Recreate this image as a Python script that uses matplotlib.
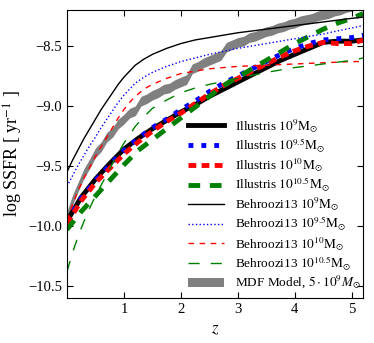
import numpy as np
import matplotlib
matplotlib.use("Agg")
import matplotlib.pyplot as plt
from matplotlib.patches import Patch

plt.rcParams['font.family'] = ['Liberation Serif', 'DejaVu Serif']
plt.rcParams['mathtext.fontset'] = 'stix'

# Illustris (thick lines)
z_ill = [0.0, 0.25, 0.5, 0.75, 1.0, 1.25, 1.5, 1.75, 2.0, 2.25, 2.5, 2.75,
         3.0, 3.25, 3.5, 3.75, 4.0, 4.25, 4.5, 4.75, 5.0, 5.2]
ill_9 = [-9.96, -9.76, -9.61, -9.48, -9.36, -9.27, -9.19, -9.12, -9.05, -8.99, -8.92, -8.86,
         -8.80, -8.74, -8.68, -8.62, -8.57, -8.52, -8.47, -8.46, -8.46, -8.45]
ill_95 = [-9.97, -9.77, -9.62, -9.49, -9.37, -9.27, -9.18, -9.11, -9.03, -8.96, -8.88, -8.81,
          -8.75, -8.69, -8.63, -8.57, -8.52, -8.48, -8.45, -8.44, -8.43, -8.41]
ill_10 = [-9.98, -9.79, -9.64, -9.52, -9.40, -9.30, -9.21, -9.13, -9.06, -8.98, -8.90, -8.83,
          -8.77, -8.71, -8.65, -8.59, -8.54, -8.50, -8.47, -8.48, -8.48, -8.45]
ill_105 = [-10.03, -9.88, -9.75, -9.62, -9.49, -9.37, -9.28, -9.19, -9.10, -9.01, -8.92, -8.83,
           -8.76, -8.69, -8.62, -8.55, -8.48, -8.42, -8.36, -8.31, -8.27, -8.23]

# Behroozi13 (thin lines)
z_beh = [0.0, 0.1, 0.2, 0.3, 0.4, 0.5, 0.6, 0.7, 0.8, 0.9, 1.0, 1.1, 1.2, 1.35, 1.5,
         1.75, 2.0, 2.25, 2.5, 3.0, 3.5, 4.0, 4.5, 5.0, 5.2]
beh_9 = [-9.55, -9.45, -9.36, -9.27, -9.19, -9.11, -9.03, -8.96, -8.89, -8.82, -8.76, -8.71,
         -8.66, -8.61, -8.57, -8.52, -8.48, -8.45, -8.43, -8.39, -8.36, -8.33, -8.30, -8.27, -8.26]
beh_95 = [-9.67, -9.58, -9.49, -9.41, -9.33, -9.26, -9.18, -9.11, -9.04, -8.97, -8.91, -8.86,
          -8.81, -8.76, -8.72, -8.67, -8.63, -8.60, -8.57, -8.52, -8.48, -8.44, -8.40, -8.35, -8.33]
beh_10 = [-9.95, -9.82, -9.70, -9.60, -9.51, -9.42, -9.34, -9.26, -9.18, -9.10, -9.03, -8.97,
          -8.92, -8.86, -8.82, -8.77, -8.73, -8.71, -8.69, -8.67, -8.66, -8.65, -8.64, -8.63, -8.63]
beh_105 = [-10.38, -10.22, -10.08, -9.96, -9.85, -9.75, -9.66, -9.57, -9.48, -9.39, -9.31, -9.24,
           -9.17, -9.09, -9.02, -8.95, -8.89, -8.85, -8.82, -8.77, -8.72, -8.68, -8.65, -8.62, -8.60]

# MDF model (grey band)
z_mdf = [0.0, 0.1, 0.2, 0.3, 0.4, 0.5, 0.6, 0.7, 0.8, 0.9, 1.0, 1.1, 1.2, 1.3, 1.4,
         1.5, 1.6, 1.7, 1.8, 1.9, 2.0, 2.1, 2.2, 2.3, 2.4, 2.5, 2.6, 2.7, 2.8, 2.9,
         3.0, 3.1, 3.2, 3.3, 3.4, 3.5, 3.6, 3.7, 3.8, 3.9, 4.0, 4.1, 4.2, 4.3, 4.4,
         4.5, 4.6, 4.7, 4.8, 4.9, 5.0, 5.1, 5.2]
mdf = [-9.92, -9.78, -9.67, -9.56, -9.48, -9.39, -9.34, -9.26, -9.22, -9.15, -9.11, -9.06, -9.04,
       -8.96, -8.94, -8.91, -8.89, -8.86, -8.85, -8.82, -8.80, -8.78, -8.69, -8.67, -8.64, -8.62,
       -8.60, -8.58, -8.51, -8.49, -8.47, -8.46, -8.43, -8.42, -8.40, -8.38, -8.37, -8.35, -8.34,
       -8.32, -8.31, -8.29, -8.28, -8.27, -8.25, -8.24, -8.23, -8.21, -8.20, -8.18, -8.17, -8.16, -8.14]
mdf_halfwidth = 0.04

fig = plt.figure(figsize=(3.74, 3.43), dpi=100)
ax = fig.add_axes([0.179, 0.131, 0.792, 0.840])

mdf = np.array(mdf)
ax.fill_between(z_mdf, mdf - mdf_halfwidth, mdf + mdf_halfwidth, color='grey', lw=0, zorder=1)

lw_thick = 3.5
h1, = ax.plot(z_ill, ill_9, color='black', lw=lw_thick, label=r'Illustris $10^{9}\mathrm{M}_{\odot}$')
h2, = ax.plot(z_ill, ill_95, color='blue', lw=lw_thick, ls=':', label=r'Illustris $10^{9.5}\mathrm{M}_{\odot}$')
h3, = ax.plot(z_ill, ill_10, color='red', lw=lw_thick, dashes=(1.6, 1.1), label=r'Illustris $10^{10}\mathrm{M}_{\odot}$')
h4, = ax.plot(z_ill, ill_105, color='green', lw=lw_thick, dashes=(2.4, 2.0), label=r'Illustris $10^{10.5}\mathrm{M}_{\odot}$')

h5, = ax.plot(z_beh, beh_9, color='black', lw=1, label=r'Behroozi13 $10^{9}\mathrm{M}_{\odot}$')
h6, = ax.plot(z_beh, beh_95, color='blue', lw=1, ls=':', label=r'Behroozi13 $10^{9.5}\mathrm{M}_{\odot}$')
h7, = ax.plot(z_beh, beh_10, color='red', lw=1, dashes=(4, 4), label=r'Behroozi13 $10^{10}\mathrm{M}_{\odot}$')
h8, = ax.plot(z_beh, beh_105, color='green', lw=1, dashes=(8, 8), label=r'Behroozi13 $10^{10.5}\mathrm{M}_{\odot}$')
h9 = Patch(facecolor='grey', edgecolor='none', label=r'MDF Model, $5\cdot10^{9}M_{\odot}$')

ax.set_xlim(0, 5.2)
ax.set_ylim(-10.6, -8.2)
ax.set_xticks([1, 2, 3, 4, 5])
ax.set_yticks([-10.5, -10.0, -9.5, -9.0, -8.5])
ax.tick_params(direction='in', top=True, right=True, labelsize=10.5, length=4)
ax.set_xlabel(r'$z$', fontsize=12)
ax.set_ylabel(r'log SSFR [ yr$^{-1}$ ]', fontsize=13, labelpad=2)

ax.legend(handles=[h1, h2, h3, h4, h5, h6, h7, h8, h9], loc='upper left',
          bbox_to_anchor=(0.37, 0.67), frameon=False, fontsize=9.5,
          handlelength=2.7, handletextpad=0.8, labelspacing=0.12)

fig.savefig('out.png', dpi=100)
